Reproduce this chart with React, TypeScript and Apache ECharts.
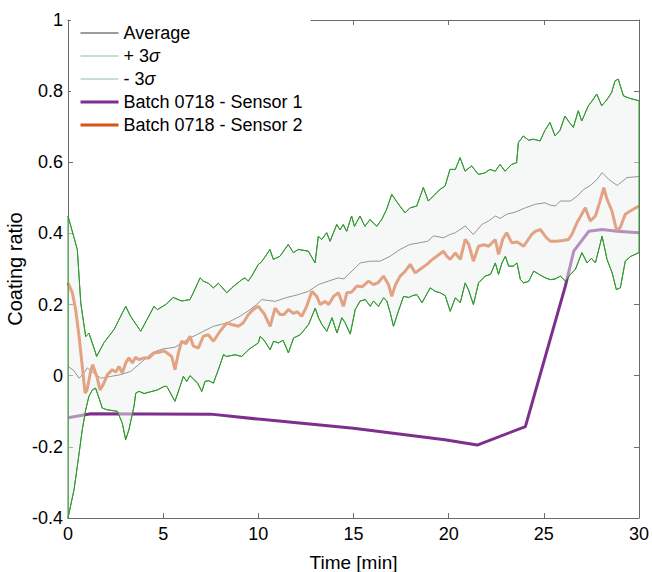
import React, { useEffect, useRef } from 'react';
import * as echarts from 'echarts';

// [time (min), coating ratio]
const averageData: [number, number][] = [
  [0, 0.026], [0.3, 0.015], [0.58, -0.007], [0.8, 0.005], [1.01, 0.022], [1.3, 0.01], [1.72, -0.007],
  [2.24, -0.002], [2.77, 0.003], [3.29, 0.012], [3.82, 0.036], [4.43, 0.065], [4.96, 0.075], [5.62, 0.08],
  [6.41, 0.106], [6.94, 0.12], [7.64, 0.139], [8.34, 0.148], [9.04, 0.167], [9.57, 0.186], [9.91, 0.2],
  [10.18, 0.214], [10.88, 0.209], [11.5, 0.22], [12.1, 0.228], [12.63, 0.237], [13.15, 0.256], [13.68, 0.266],
  [14.2, 0.275], [14.5, 0.272], [14.73, 0.285], [15.09, 0.303], [15.35, 0.317], [15.87, 0.322], [16.4, 0.322],
  [16.93, 0.336], [17.45, 0.355], [17.97, 0.369], [18.5, 0.374], [18.9, 0.378], [19.2, 0.393], [19.73, 0.388],
  [20.08, 0.397], [20.35, 0.402], [20.87, 0.421], [21.3, 0.397], [21.74, 0.425], [22.1, 0.435], [22.45, 0.449],
  [22.7, 0.442], [23.05, 0.454], [23.5, 0.46], [24.03, 0.472], [24.55, 0.482], [25.07, 0.486], [25.3, 0.48],
  [25.6, 0.477], [25.87, 0.491], [26.4, 0.491], [26.75, 0.505], [27.1, 0.524], [27.45, 0.535], [27.8, 0.552],
  [28.06, 0.571], [28.41, 0.552], [28.85, 0.535], [29.37, 0.557], [30, 0.56],
];

const plus3SigmaData: [number, number][] = [
  [0, 0.449], [0.49, 0.355], [0.67, 0.205], [0.93, 0.11], [1.1, 0.12], [1.45, 0.064], [1.5, 0.054], [1.89, 0.093],
  [2.42, 0.13], [3.03, 0.195], [3.29, 0.167], [3.82, 0.125], [4.52, 0.195], [4.7, 0.186], [5.13, 0.2], [5.53, 0.22],
  [5.97, 0.21], [6.41, 0.214], [6.58, 0.233], [6.94, 0.275], [7.11, 0.266], [7.37, 0.26], [7.64, 0.247], [7.9, 0.26],
  [8.07, 0.25], [8.34, 0.233], [8.6, 0.247], [9.13, 0.27], [9.3, 0.275], [9.47, 0.266], [9.65, 0.28], [10.0, 0.313],
  [10.17, 0.32], [10.61, 0.355], [10.79, 0.327], [11.14, 0.336], [11.57, 0.369], [11.84, 0.346], [12.1, 0.355],
  [12.63, 0.35], [12.98, 0.317], [13.15, 0.392], [13.33, 0.383], [13.59, 0.402], [13.77, 0.378], [14.12, 0.425],
  [14.3, 0.41], [14.46, 0.425], [14.64, 0.406], [14.9, 0.449], [15.05, 0.42], [15.34, 0.449], [15.6, 0.42],
  [15.87, 0.439], [16.22, 0.42], [16.48, 0.439], [16.74, 0.468], [17.01, 0.51], [17.2, 0.495], [17.44, 0.477],
  [17.71, 0.458], [17.97, 0.472], [18.32, 0.477], [18.67, 0.529], [18.93, 0.491], [19.28, 0.51], [19.55, 0.524],
  [19.81, 0.533], [20.07, 0.58], [20.35, 0.58], [20.6, 0.613], [20.86, 0.575], [21.21, 0.59], [21.56, 0.566],
  [21.9, 0.57], [22.17, 0.58], [22.45, 0.575], [22.7, 0.594], [22.96, 0.575], [23.31, 0.594], [23.57, 0.599],
  [23.66, 0.655], [23.92, 0.674], [24.2, 0.662], [24.45, 0.665], [24.8, 0.66], [25.06, 0.69], [25.32, 0.712],
  [25.59, 0.674], [25.85, 0.69], [26.11, 0.73], [26.29, 0.716], [26.55, 0.698], [26.81, 0.745], [26.99, 0.716],
  [27.34, 0.759], [27.5, 0.77], [27.78, 0.792], [28.04, 0.759], [28.3, 0.775], [28.56, 0.796], [28.74, 0.829],
  [28.91, 0.834], [29.18, 0.787], [29.5, 0.78], [30, 0.773],
];

const minus3SigmaData: [number, number][] = [
  [0, -0.4], [0.32, -0.32], [0.49, -0.255], [0.75, -0.152], [0.93, -0.096], [1.1, -0.058], [1.28, -0.04],
  [1.45, -0.035], [1.63, -0.063], [1.8, -0.091], [2.07, -0.096], [2.59, -0.1], [2.85, -0.133], [3.03, -0.18],
  [3.2, -0.152], [3.47, -0.086], [3.56, -0.049], [3.73, -0.044], [4.0, -0.05], [4.35, -0.045], [4.7, -0.04],
  [5.05, -0.03], [5.19, -0.03], [5.62, -0.072], [5.89, -0.03], [6.06, -0.002], [6.24, -0.016], [6.41, 0],
  [6.6, -0.01], [6.8, -0.02], [7.03, -0.044], [7.2, -0.016], [7.4, -0.014], [7.64, -0.021], [7.9, 0.017],
  [8.17, 0.059], [8.34, 0.054], [8.78, 0.059], [9.13, 0.054], [9.48, 0.073], [9.74, 0.083], [10.0, 0.092],
  [10.09, 0.11], [10.3, 0.1], [10.62, 0.073], [10.8, 0.097], [11.06, 0.092], [11.3, 0.1], [11.58, 0.064],
  [11.85, 0.106], [12.2, 0.115], [12.64, 0.144], [12.99, 0.19], [13.16, 0.163], [13.34, 0.144], [13.6, 0.125],
  [13.87, 0.163], [14.13, 0.12], [14.39, 0.163], [14.55, 0.15], [14.83, 0.117], [15.09, 0.186], [15.35, 0.21],
  [15.62, 0.214], [15.88, 0.195], [16.05, 0.21], [16.31, 0.195], [16.58, 0.219], [16.75, 0.21], [16.93, 0.177],
  [17.1, 0.139], [17.35, 0.18], [17.63, 0.223], [17.9, 0.22], [18.1, 0.225], [18.33, 0.228], [18.6, 0.205],
  [19.03, 0.247], [19.3, 0.237], [19.56, 0.233], [19.82, 0.225], [20.08, 0.181], [20.35, 0.219], [20.61, 0.205],
  [20.87, 0.261], [21.05, 0.24], [21.3, 0.2], [21.57, 0.261], [21.92, 0.28], [22.2, 0.285], [22.45, 0.317],
  [22.62, 0.285], [22.8, 0.317], [22.98, 0.336], [23.15, 0.308], [23.4, 0.308], [23.59, 0.317], [23.77, 0.27],
  [23.94, 0.261], [24.2, 0.265], [24.47, 0.294], [24.75, 0.285], [25.08, 0.275], [25.35, 0.27], [25.6, 0.272],
  [25.87, 0.28], [26.13, 0.266], [26.4, 0.285], [26.66, 0.299], [27.0, 0.346], [27.27, 0.317], [27.5, 0.33],
  [27.71, 0.317], [28.06, 0.392], [28.32, 0.327], [28.59, 0.289], [28.81, 0.242], [29.02, 0.247], [29.28, 0.322],
  [29.55, 0.335], [30, 0.346],
];

const sensor1Data: [number, number][] = [
  [0, -0.118], [1.2, -0.107], [7.5, -0.108], [10, -0.122], [15, -0.148], [19.8, -0.18], [21.5, -0.195],
  [24.03, -0.143], [26.13, 0.252], [26.57, 0.35], [27.36, 0.406], [28.06, 0.411], [28.85, 0.406], [30, 0.402],
];

const sensor2Data: [number, number][] = [
  [0, 0.261], [0.23, 0.233], [0.4, 0.186], [0.58, 0.111], [0.75, 0.026], [0.9, -0.049], [1.0, -0.04], [1.19, 0.012],
  [1.3, 0.031], [1.54, -0.007], [1.68, -0.04], [1.85, -0.025], [2.07, 0.003], [2.33, 0.017], [2.5, 0.01],
  [2.68, 0.026], [2.85, 0.007], [3.03, 0.036], [3.2, 0.05], [3.38, 0.036], [3.55, 0.052], [3.73, 0.045], [4.0, 0.05],
  [4.26, 0.05], [4.52, 0.064], [4.8, 0.066], [5.04, 0.07], [5.45, 0.054], [5.62, 0.017], [5.8, 0.064], [5.97, 0.097],
  [6.2, 0.09], [6.41, 0.111], [6.59, 0.083], [6.85, 0.078], [7.11, 0.111], [7.37, 0.115], [7.64, 0.097],
  [7.99, 0.125], [8.34, 0.148], [8.6, 0.144], [8.95, 0.139], [9.2, 0.148], [9.48, 0.172], [9.74, 0.186],
  [10.0, 0.195], [10.3, 0.175], [10.62, 0.139], [10.88, 0.19], [11.14, 0.172], [11.35, 0.172], [11.58, 0.186],
  [11.85, 0.175], [12.05, 0.18], [12.28, 0.167], [12.54, 0.195], [12.81, 0.237], [13.07, 0.223], [13.25, 0.2],
  [13.51, 0.209], [13.7, 0.2], [13.95, 0.223], [14.21, 0.233], [14.47, 0.195], [14.65, 0.233], [14.9, 0.235],
  [15.18, 0.252], [15.45, 0.25], [15.79, 0.266], [16.05, 0.256], [16.3, 0.262], [16.58, 0.28], [16.84, 0.256],
  [17.01, 0.223], [17.2, 0.255], [17.45, 0.28], [17.72, 0.294], [17.98, 0.313], [18.24, 0.289], [18.59, 0.303],
  [18.86, 0.313], [19.1, 0.325], [19.37, 0.336], [19.73, 0.35], [19.9, 0.336], [20.08, 0.327], [20.35, 0.345],
  [20.61, 0.327], [20.87, 0.383], [21.05, 0.37], [21.3, 0.322], [21.57, 0.364], [21.85, 0.368], [22.1, 0.364],
  [22.45, 0.383], [22.62, 0.341], [22.85, 0.385], [23.05, 0.402], [23.31, 0.374], [23.6, 0.376], [23.94, 0.364],
  [24.36, 0.397], [24.55, 0.406], [24.82, 0.411], [25.1, 0.39], [25.34, 0.378], [25.69, 0.378], [26.0, 0.38],
  [26.3, 0.383], [26.5, 0.4], [26.74, 0.43], [26.95, 0.45], [27.18, 0.472], [27.44, 0.435], [27.71, 0.449],
  [27.95, 0.49], [28.15, 0.529], [28.32, 0.496], [28.58, 0.463], [28.81, 0.411], [29.0, 0.415], [29.28, 0.454],
  [29.54, 0.463], [30, 0.477],
];

const seriesNames = ['Average', '+ 3σ', '- 3σ', 'Batch 0718 - Sensor 1', 'Batch 0718 - Sensor 2'];

export default function App() {
  const ref = useRef<HTMLDivElement>(null);

  useEffect(() => {
    if (!ref.current) return;
    const chart = echarts.init(ref.current, null, { renderer: 'svg' });
    const font = '"Liberation Sans", Arial, Helvetica, sans-serif';
    const axisColor = '#6b6b6b';
    const green = '#339933';
    const avgColor = '#383838';
    const purple = '#7E2F8E';
    const orange = '#D95319';
    const sigmaLegend = '#8fbfa0';
    const bandFill = 'rgba(236,242,238,0.5)';

    const baseAxis = {
      type: 'value' as const,
      axisLine: { show: true, onZero: false, lineStyle: { color: axisColor, width: 1 } },
      axisTick: { show: true, inside: true, length: 5, lineStyle: { color: axisColor } },
      splitLine: { show: false },
    };

    const legendItem = (name: string, color: string, width: number) => ({
      name,
      lineStyle: { color, width },
      itemStyle: { color, opacity: 0, borderWidth: 0 },
    });

    chart.setOption({
      animation: false,
      grid: { left: 68, right: 13, top: 20, bottom: 54, containLabel: false, outerBoundsMode: 'none' },
      xAxis: [
        {
          ...baseAxis,
          min: 0, max: 30, interval: 5,
          position: 'bottom',
          name: 'Time [min]',
          nameLocation: 'middle',
          nameGap: 35,
          nameMoveOverlap: false,
          nameTextStyle: { color: '#000', fontFamily: font, fontSize: 19 },
          axisLabel: { color: '#000', fontFamily: font, fontSize: 18, margin: 7 },
        },
        {
          ...baseAxis,
          min: 0, max: 30, interval: 5,
          position: 'top',
          axisLabel: { show: false },
        },
      ],
      yAxis: [
        {
          ...baseAxis,
          min: -0.4, max: 1, interval: 0.2,
          position: 'left',
          name: 'Coating ratio',
          nameLocation: 'middle',
          nameGap: 43,
          nameMoveOverlap: false,
          nameTextStyle: { color: '#000', fontFamily: font, fontSize: 20 },
          axisLabel: { color: '#000', fontFamily: font, fontSize: 18, margin: 5 },
        },
        {
          ...baseAxis,
          min: -0.4, max: 1, interval: 0.2,
          position: 'right',
          axisLabel: { show: false },
        },
      ],
      legend: {
        orient: 'vertical',
        left: 71,
        top: 18,
        padding: [5, 8, 5, 8],
        itemWidth: 38,
        itemHeight: 14,
        itemGap: 3,
        backgroundColor: '#ffffff',
        selectedMode: false,
        textStyle: {
          color: '#000', fontFamily: font, fontSize: 18, lineHeight: 20,
          rich: { i: { fontStyle: 'italic', fontFamily: font, fontSize: 18, color: '#000' } },
        },
        formatter: (name: string) => name.replace('σ', '{i|σ}'),
        data: [
          legendItem(seriesNames[0], avgColor, 1),
          legendItem(seriesNames[1], sigmaLegend, 1.2),
          legendItem(seriesNames[2], sigmaLegend, 1.2),
          legendItem(seriesNames[3], purple, 3),
          legendItem(seriesNames[4], orange, 3),
        ],
      },
      series: [
        {
          name: seriesNames[0], type: 'line', data: averageData, symbol: 'none', z: 2,
          lineStyle: { color: avgColor, width: 1 }, itemStyle: { color: avgColor },
        },
        {
          name: seriesNames[3], type: 'line', data: sensor1Data, symbol: 'none', z: 2,
          lineStyle: { color: purple, width: 3 }, itemStyle: { color: purple },
        },
        {
          name: seriesNames[4], type: 'line', data: sensor2Data, symbol: 'none', z: 2,
          lineStyle: { color: orange, width: 3 }, itemStyle: { color: orange },
        },
        {
          type: 'custom',
          coordinateSystem: 'cartesian2d',
          z: 3,
          silent: true,
          clip: false,
          data: [[0, 0]],
          renderItem: (_params: any, api: any) => {
            const pts = plus3SigmaData
              .map((p) => api.coord(p))
              .concat(minus3SigmaData.slice().reverse().map((p) => api.coord(p)));
            return {
              type: 'polygon',
              shape: { points: pts },
              style: { fill: bandFill, stroke: green, lineWidth: 1 },
            };
          },
        },
        {
          name: seriesNames[1], type: 'line', data: plus3SigmaData, symbol: 'none', z: 4,
          lineStyle: { color: green, width: 1 }, itemStyle: { color: green },
        },
        {
          name: seriesNames[2], type: 'line', data: minus3SigmaData, symbol: 'none', z: 4,
          lineStyle: { color: green, width: 1 }, itemStyle: { color: green },
        },
      ],
    });

    return () => chart.dispose();
  }, []);

  return (
    <div
      ref={ref}
      style={{ position: 'absolute', left: 0, top: 0, width: 652, height: 572 }}
    />
  );
}
